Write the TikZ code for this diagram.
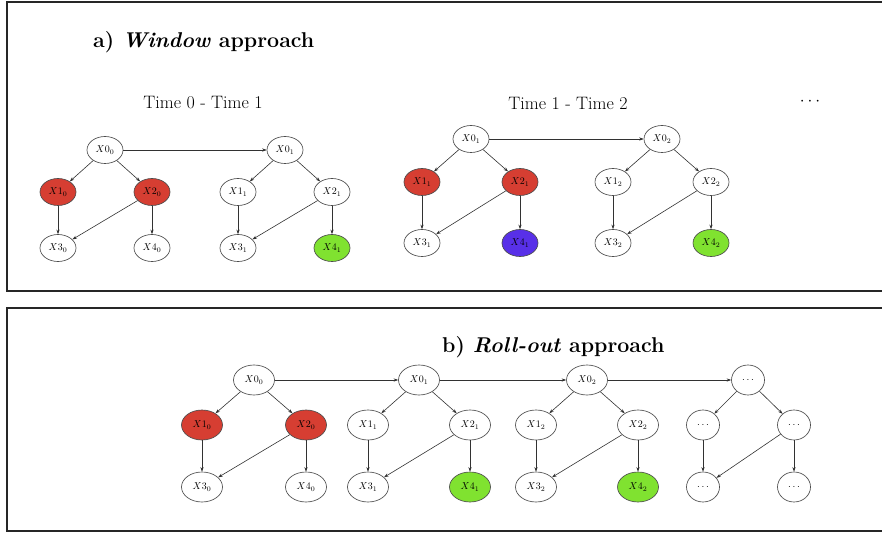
\documentclass[tikz,border=0pt]{standalone}
\usetikzlibrary{shapes.geometric,arrows.meta}
\definecolor{nred}{RGB}{214,62,50}
\definecolor{ngreen}{RGB}{128,226,48}
\definecolor{nblue}{RGB}{88,48,232}
\definecolor{edgec}{RGB}{50,50,50}
\tikzset{
  bn/.style={ellipse,draw=black!70,line width=0.65pt,fill=white,inner sep=0pt,
    minimum width=36pt,minimum height=27pt,font=\fontsize{10}{11}\selectfont},
  bnb/.style={bn,minimum width=41pt,minimum height=30pt},
  dotn/.style={bn,minimum width=33pt,minimum height=30pt},
  redn/.style={fill=nred},
  greenn/.style={fill=ngreen},
  bluen/.style={fill=nblue},
  whiten/.style={fill=white},
  arr/.style={draw=edgec,line width=0.6pt,-{Stealth[length=4.5pt,width=3.2pt]}},
  frame/.style={line width=1.4pt,draw=black!85},
  ttl/.style={font=\fontsize{21.4}{25}\selectfont\bfseries,inner sep=0pt},
  tml/.style={font=\fontsize{18}{21}\selectfont,inner sep=0pt}
}
% #1 prefix, #2 x0, #3 y0, #4 y1, #5 y2, #6 half spacing, #7 subscript, #8 X1/X2 style, #9 X4 style
\newcommand\dbnet[9]{%
  \node[bn] (#1-0) at (#2,#3) {$X0_{#7}$};
  \node[bn,#8] (#1-1) at (#2-#6,#4) {$X1_{#7}$};
  \node[bn,#8] (#1-2) at (#2+#6,#4) {$X2_{#7}$};
  \node[bn] (#1-3) at (#2-#6,#5) {$X3_{#7}$};
  \node[bn,#9] (#1-4) at (#2+#6,#5) {$X4_{#7}$};
  \draw[arr] (#1-0) -- (#1-1);
  \draw[arr] (#1-0) -- (#1-2);
  \draw[arr] (#1-1) -- (#1-3);
  \draw[arr] (#1-2) -- (#1-3);
  \draw[arr] (#1-2) -- (#1-4);
}
\newcommand\dbnetb[9]{%
  \node[bnb] (#1-0) at (#2,#3) {$X0_{#7}$};
  \node[bnb,#8] (#1-1) at (#2-#6,#4) {$X1_{#7}$};
  \node[bnb,#8] (#1-2) at (#2+#6,#4) {$X2_{#7}$};
  \node[bnb] (#1-3) at (#2-#6,#5) {$X3_{#7}$};
  \node[bnb,#9] (#1-4) at (#2+#6,#5) {$X4_{#7}$};
  \draw[arr] (#1-0) -- (#1-1);
  \draw[arr] (#1-0) -- (#1-2);
  \draw[arr] (#1-1) -- (#1-3);
  \draw[arr] (#1-2) -- (#1-3);
  \draw[arr] (#1-2) -- (#1-4);
}
\begin{document}
\begin{tikzpicture}[x=1pt,y=-1pt]
\useasboundingbox (0,0) rectangle (882,534);
% frames
\draw[frame] (890,2) -- (7,2) -- (7,291) -- (890,291);
\draw[frame] (890,308) -- (7,308) -- (7,531) -- (890,531);
% panel a
\node[ttl,anchor=west] (ta) at (93,42) {a) \textit{Window} approach};
\node[tml] (t01) at (203,103) {Time 0 - Time 1};
\node[tml] (t12) at (568,103) {Time 1 - Time 2};
\node[tml] (tdots) at (810,102) {$\cdots$};
\dbnet{a}{105}{150}{192}{248}{47}{0}{redn}{whiten}
\dbnet{b}{285}{150}{192}{248}{47}{1}{whiten}{greenn}
\draw[arr] (a-0) -- (b-0);
\dbnet{c}{471}{139}{182}{243}{49}{1}{redn}{bluen}
\dbnet{d}{662}{139}{182}{243}{49}{2}{whiten}{greenn}
\draw[arr] (c-0) -- (d-0);
% panel b
\node[ttl,anchor=west] (tb) at (442,347) {b) \textit{Roll-out} approach};
\dbnetb{e}{254}{380}{425}{487}{52}{0}{redn}{whiten}
\dbnetb{f}{419}{380}{425}{487}{51}{1}{whiten}{greenn}
\dbnetb{g}{587}{380}{425}{487}{51}{2}{whiten}{greenn}
\draw[arr] (e-0) -- (f-0);
\draw[arr] (f-0) -- (g-0);
\node[dotn] (h-0) at (748,380) {$\cdots$};
\node[dotn] (h-1) at (703,425) {$\cdots$};
\node[dotn] (h-2) at (794,425) {$\cdots$};
\node[dotn] (h-3) at (703,487) {$\cdots$};
\node[dotn] (h-4) at (794,487) {$\cdots$};
\draw[arr] (g-0) -- (h-0);
\draw[arr] (h-0) -- (h-1);
\draw[arr] (h-0) -- (h-2);
\draw[arr] (h-1) -- (h-3);
\draw[arr] (h-2) -- (h-3);
\draw[arr] (h-2) -- (h-4);
\end{tikzpicture}
\end{document}
